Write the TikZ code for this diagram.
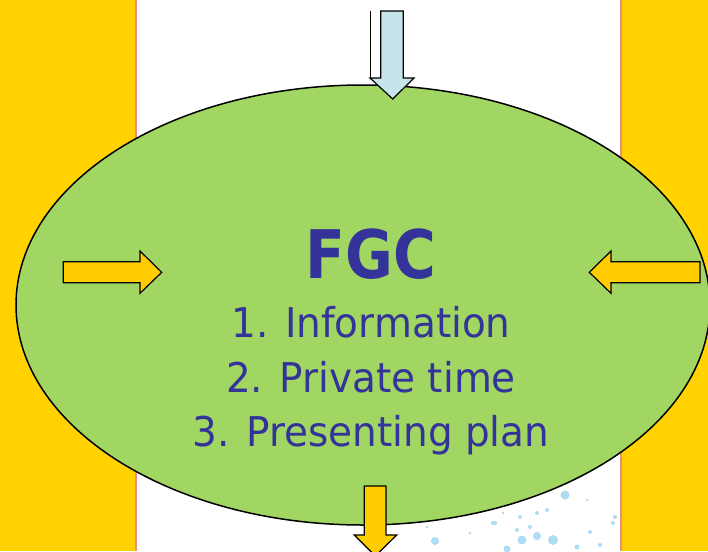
\documentclass[tikz,border=0pt]{standalone}
\usepackage{tikz}
\usepackage{xcolor}
\usepackage{fontspec}
\setmainfont{DejaVu Sans}[FakeStretch=0.95]
\newfontfamily\fgcfont{DejaVu Sans}[FakeStretch=0.87]

\definecolor{bandyellow}{HTML}{FFD200}
\definecolor{arrowyellow}{HTML}{FFCC00}
\definecolor{bandpink}{HTML}{F08A80}
\definecolor{blobgreen}{HTML}{A1D663}
\definecolor{textblue}{HTML}{333399}
\definecolor{paleblue}{HTML}{C6E4E9}
\definecolor{bubble}{HTML}{AEDCF2}

\tikzset{
  blockarrow/.style={draw=black, line width=1.2pt, line join=miter},
  itemtext/.style={anchor=base, text=textblue, inner sep=0pt,
    font=\fontsize{41}{41}\selectfont}
}

\begin{document}
\begin{tikzpicture}[x=1pt,y=-1pt]
            \useasboundingbox (0,0) rectangle (708,551);
            \clip (0,0) rectangle (708,551);
            % side bands
            \fill[bandyellow] (0,0) rectangle (135,551);
            \fill[bandyellow] (621,0) rectangle (708,551);
            \fill[bandpink] (134.5,0) rectangle (137,551);
            \fill[bandpink] (619.5,0) rectangle (622,551);
            % bubbles under the blob
            \foreach \bx/\by/\br in {565/495/4.5, 435/541/4, 522/540/4.5, 537/536/4,
                553/540/5, 507/549/3.5, 495/523/2, 537/513/2, 517/530/2, 547/510/2,
                520/517/2, 590/532/2, 615/517/2, 587/500/1.5, 613/523/2, 577/547/2.5,
                503/513/1.5, 470/533/1.5, 427/527/1.5, 530/527/2, 493/523/2, 600/545/2}
            {
                \fill[bubble] (\bx,\by) circle (\br);
            }
            % the blob
            \draw[fill=blobgreen, line width=1.5pt] (363,305) ellipse (347 and 220);
            % arrows
            \draw[blockarrow, fill=arrowyellow] (63.3,261.7) -- (140,261.7) -- (140,251)
                -- (161.7,272.3) -- (140,293.3) -- (140,282.7) -- (63.3,282.7) -- cycle;
            \draw[blockarrow, fill=arrowyellow] (700,261.7) -- (611,261.7) -- (611,251)
                -- (589.3,272.3) -- (611,293.3) -- (611,282.7) -- (700,282.7) -- cycle;
            \draw[blockarrow, fill=arrowyellow] (364.3,486) -- (386,486) -- (386,535)
                -- (396.7,535) -- (375.3,556) -- (354.3,535) -- (364.3,535) -- cycle;
            \draw[black, line width=1pt] (370,11) -- (370,78);
            \draw[blockarrow, fill=paleblue] (380.7,11) -- (403.3,11) -- (403.3,78)
                -- (414,78) -- (392.7,99) -- (370,78) -- (380.7,78) -- cycle;
            % text
            \node[anchor=base, text=textblue, inner sep=0pt,
                font=\fgcfont\bfseries\fontsize{67}{67}\selectfont] (title) at (371,278.3) {FGC};
            \node[itemtext] (info) at (371,337.7) {1. Information};
            \node[itemtext] (private) at (371,392.7) {2. Private time};
            \node[itemtext] (plan) at (371,446.7) {3. Presenting plan};
        \end{tikzpicture}
\end{document}
